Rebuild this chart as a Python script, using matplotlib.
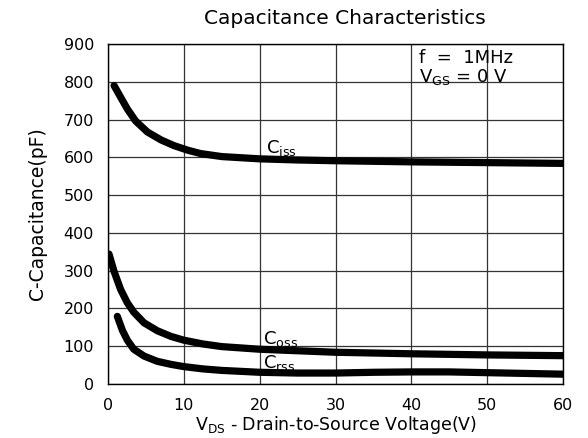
import matplotlib
matplotlib.use("Agg")
import matplotlib.pyplot as plt

plt.rcParams['font.family'] = ['DejaVu Sans']
plt.rcParams['mathtext.default'] = 'regular'

# Data
ciss_v = [0.8, 1.67, 2.55, 3.65, 5.2, 7.0, 8.7, 10.5, 12.2, 15, 20, 25, 30, 40, 50, 60]
ciss_c = [790, 759, 728, 696, 667, 646, 631, 619, 610, 602, 596, 593, 591, 588, 586, 584]

coss_v = [0.13, 0.8, 1.67, 2.55, 3.4, 4.75, 6.5, 8.3, 10, 12.5, 15, 20, 30, 40, 50, 60]
coss_c = [344, 298, 250, 215, 190, 162, 141, 126, 116, 106, 99, 92, 84, 80, 77, 75]

crss_v = [1.23, 1.9, 2.55, 3.4, 4.75, 6.5, 8.3, 10, 12.5, 15, 20, 25, 30, 35, 40, 45, 50, 55, 60]
crss_c = [179, 142, 116, 92, 74, 60, 52, 46, 40, 36, 31, 29, 29, 31, 32, 32, 30, 28, 26]

x_ticks = [0, 10, 20, 30, 40, 50, 60]
y_ticks = [0, 100, 200, 300, 400, 500, 600, 700, 800, 900]

fig = plt.figure(figsize=(5.88, 4.38), dpi=100)
ax = fig.add_axes([108/588, 1-384/438, (563-108)/588, (384-44)/438])

for v, c in [(ciss_v, ciss_c), (coss_v, coss_c), (crss_v, crss_c)]:
    ax.plot(v, c, color='black', lw=5.2, solid_capstyle='round',
            solid_joinstyle='round', zorder=3)

ax.set_xlim(0, 60)
ax.set_ylim(0, 900)
ax.set_xticks(x_ticks)
ax.set_yticks(y_ticks)
ax.grid(True, color='#333333', lw=0.9)
ax.tick_params(length=0, labelsize=11.5, pad=10)
for s in ax.spines.values():
    s.set_color('black')
    s.set_linewidth(1.0)

ax.set_xlabel('V$_{DS}$ - Drain-to-Source Voltage(V)', fontsize=12.5, labelpad=1)
ax.set_ylabel('C-Capacitance(pF)', fontsize=13.5, labelpad=12)
fig.text(345/588, 1-18/438, 'Capacitance Characteristics', ha='center',
         va='center', fontsize=14.5)

ax.text(41.0, 862, 'f  =  1MHz', fontsize=13, va='center', ha='left')
ax.text(41.0, 812, 'V$_{GS}$ = 0 V', fontsize=13, va='center', ha='left')

ax.text(20.8, 625, 'C$_{iss}$', fontsize=13, va='center', ha='left')
ax.text(20.5, 118, 'C$_{oss}$', fontsize=13, va='center', ha='left')
ax.text(20.5, 55, 'C$_{rss}$', fontsize=13, va='center', ha='left')

fig.savefig('out.png', dpi=100)
